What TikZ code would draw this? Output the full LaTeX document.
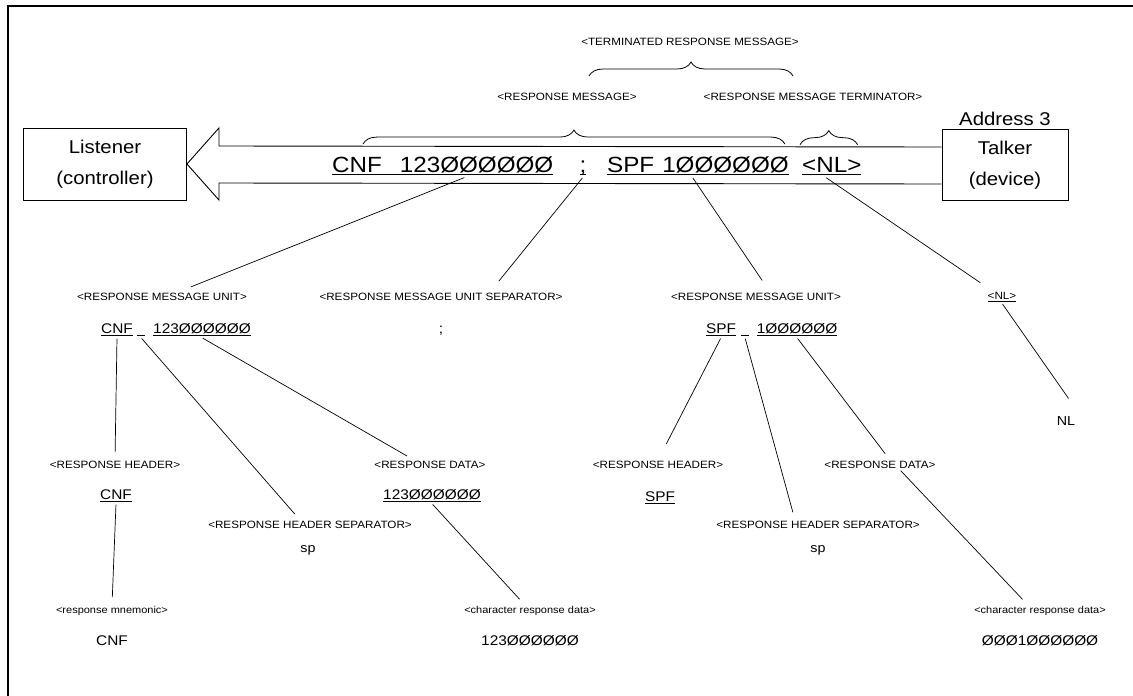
\documentclass[tikz,border=0pt]{standalone}
\usepackage{fontspec}
\setmainfont{Liberation Sans}
\newfontfamily\wf[FakeStretch=1.1]{Liberation Sans}
\usetikzlibrary{positioning,calc,decorations.pathreplacing}

\newcommand{\undl}[1]{\setbox0=\hbox{#1}\rlap{\rule[-3pt]{\wd0}{0.9pt}}\box0}

\begin{document}
\begin{tikzpicture}[
        x=1pt, y=-1pt,
        lbl/.style={font=\wf\fontsize{10.6}{12}\selectfont, inner sep=1pt},
        sml/.style={font=\wf\fontsize{10}{12}\selectfont, inner sep=1pt},
        val/.style={font=\wf\fontsize{14}{16}\selectfont, inner sep=1.5pt},
        msg/.style={font=\wf\fontsize{22}{24}\selectfont, inner sep=2pt},
        station/.style={draw, line width=0.9pt, minimum width=163, minimum height=72, align=center, font=\wf\fontsize{18.5}{31}\selectfont},
        brc/.style={decorate, decoration={brace, amplitude=14pt}, line width=0.8pt},
        link/.style={line width=0.7pt, shorten >=8pt, shorten <=1pt},
        outline/.style={line width=0.9pt}
    ]
    \useasboundingbox (0,0) rectangle (1133,696);
    \draw[line width=1.2pt] (8,696) -- (8,6) -- (1133,6);

    % --- Listener / Talker ---
    \node[station] (listener) at (105,164) {Listener\\(controller)};
    \node[station, minimum width=126, minimum height=71] (talker) at (1005,165) {Talker\\(device)};
    \node[font=\wf\fontsize{18.5}{20}\selectfont, above=0pt of talker] (addr) {Address 3};

    % --- Message on the bus ---
    \node[msg, anchor=base west] (msgA) at (330,172) {\undl{CNF\hspace{18pt}123ØØØØØØ}};
    \node[msg, anchor=base] (msgS) at (583,172) {\undl{;}};
    \node[msg, anchor=base west] (msgB) at (605,172) {\undl{SPF\hspace{8pt}1ØØØØØØ}};
    \node[msg, anchor=base west] (msgN) at (800,172) {\undl{<NL>}};

    \draw[outline] ([yshift=18]talker.west) -- ([xshift=32,yshift=18]listener.east)
        -- ([xshift=32,yshift=36]listener.east) -- (listener.east)
        -- ([xshift=32,yshift=-36]listener.east) -- ([xshift=32,yshift=-19]listener.east)
        -- ([yshift=-19]talker.west);

    % --- Braces ---
    \node[lbl] (lTRM) at (690,42) {<TERMINATED RESPONSE MESSAGE>};
    \node[lbl] (lRM) at (567,97) {<RESPONSE MESSAGE>};
    \node[lbl] (lRMT) at (813,97) {<RESPONSE MESSAGE TERMINATOR>};
    \coordinate (trmL) at (589,76);
    \coordinate (trmR) at (793,76);
    \draw[brc] (trmL) -- (trmR);
    \draw[brc] ([xshift=33,yshift=10]msgA.north west) -- ([xshift=-6,yshift=10]msgB.north east);
    \draw[brc] ([yshift=10]msgN.north west) -- ([xshift=-6,yshift=10]msgN.north east);

    % --- Message units ---
    \node[lbl] (uL) at (162,297) {<RESPONSE MESSAGE UNIT>};
    \node[lbl] (sepL) at (441,297) {<RESPONSE MESSAGE UNIT SEPARATOR>};
    \node[lbl] (uR) at (756,297) {<RESPONSE MESSAGE UNIT>};
    \node[lbl] (nlL) at (1002,297) {\undl{<NL>}};

    \node[val, anchor=base] (v2cnf) at (117,333) {\undl{CNF}};
    \node[val, anchor=base] (v2spL) at (141,333) {\undl{\hspace{8pt}}};
    \node[val, anchor=base] (v2dat) at (202,333) {\undl{123ØØØØØØ}};
    \node[val, anchor=base] (v2semi) at (441,333) {;};
    \node[val, anchor=base] (v2spf) at (721,333) {\undl{SPF}};
    \node[val, anchor=base] (v2spR) at (745,333) {\undl{\hspace{8pt}}};
    \node[val, anchor=base] (v2datR) at (797,333) {\undl{1ØØØØØØ}};
    \node[val, font=\wf\fontsize{13}{15}\selectfont] (nlV) at (1066,421) {NL};

    \draw[link, shorten >=14pt] ($(msgA.south west)!0.6!(msgA.south east)$) -- ([xshift=16]uL.north);
    \draw[link, shorten >=14pt] (msgS.south) -- ([xshift=49]sepL.north);
    \draw[link, shorten >=14pt] ($(msgB.south west)!0.47!(msgB.south east)$) -- ([xshift=14]uR.north);
    \draw[link, shorten >=14pt] ($(msgN.south west)!0.4!(msgN.south east)$) -- ([xshift=-10]nlL.north);
    \draw[link, shorten >=20pt] (nlL.south) -- ([xshift=14]nlV.north);

    % --- Headers and data ---
    \node[lbl] (hL) at (115,465) {<RESPONSE HEADER>};
    \node[lbl] (dL) at (430,465) {<RESPONSE DATA>};
    \node[lbl] (hR) at (658,465) {<RESPONSE HEADER>};
    \node[lbl] (dR) at (880,465) {<RESPONSE DATA>};
    \node[val, anchor=base] (v3cnf) at (116,499) {\undl{CNF}};
    \node[val, anchor=base] (v3dat) at (432,499) {\undl{123ØØØØØØ}};
    \node[val, anchor=base] (v3spf) at (660,501) {\undl{SPF}};

    \node[lbl] (hsL) at (310,525) {<RESPONSE HEADER SEPARATOR>};
    \node[val, font=\wf\fontsize{13}{15}\selectfont] (spL) at (308,550) {sp};
    \node[lbl] (hsR) at (818,525) {<RESPONSE HEADER SEPARATOR>};
    \node[val, font=\wf\fontsize{13}{15}\selectfont] (spR) at (818,550) {sp};

    \draw[link] (v2cnf.south) -- (hL.north);
    \draw[link] (v2spL.south) -- ([xshift=-10]hsL.north);
    \draw[link] (v2dat.south) -- ([xshift=-16]dL.north);
    \draw[link, shorten >=18pt] (v2spf.south) -- (hR.north);
    \draw[link] (v2spR.south) -- ([xshift=-23]hsR.north);
    \draw[link] (v2datR.south) -- ([xshift=10]dR.north);

    % --- Lowest level ---
    \node[sml] (mnem) at (112,611) {<response mnemonic>};
    \node[val] (mnemV) at (112,641) {CNF};
    \node[sml] (crd1) at (530,611) {<character response data>};
    \node[val] (crd1V) at (530,641) {123ØØØØØØ};
    \node[sml] (crd2) at (1040,611) {<character response data>};
    \node[val] (crd2V) at (1040,641) {ØØØ1ØØØØØØ};

    \draw[link] (v3cnf.south) -- (mnem.north);
    \draw[link] (v3dat.south) -- ([xshift=-5]crd1.north);
    \draw[link] ([xshift=20]dR.south) -- ([xshift=-12]crd2.north);

\end{tikzpicture}
\end{document}
